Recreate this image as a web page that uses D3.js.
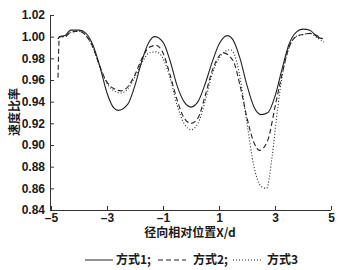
<!DOCTYPE html>
<html>
<head>
<meta charset="utf-8">
<script src="https://cdn.jsdelivr.net/npm/d3@7"></script>
<style>
  body { margin: 0; background: #fff; }
  svg { display: block; }
</style>
</head>
<body>
<svg width="350" height="270"></svg>
<script>
// 数据
const xTicks = [-5, -3, -1, 1, 3, 5];
const yTicks = [0.84, 0.86, 0.88, 0.90, 0.92, 0.94, 0.96, 0.98, 1.00, 1.02];

const x1 = [-4.75, -4.7, -4.5, -4.3, -4.0, -3.75, -3.5, -3.25, -3.0, -2.75, -2.6, -2.25, -2.0, -1.75, -1.5, -1.3, -1.0, -0.75, -0.5, -0.25, 0.0, 0.25, 0.5, 0.75, 1.0, 1.3, 1.5, 1.75, 2.0, 2.25, 2.5, 2.75, 3.0, 3.25, 3.5, 3.75, 4.0, 4.25, 4.5, 4.7];
const y1 = [0.998, 1.000, 1.001, 1.006, 1.006, 1.003, 0.992, 0.972, 0.948, 0.934, 0.932, 0.938, 0.955, 0.978, 0.995, 1.000, 0.995, 0.978, 0.955, 0.940, 0.935, 0.940, 0.956, 0.976, 0.993, 1.001, 0.997, 0.980, 0.955, 0.935, 0.928, 0.930, 0.945, 0.970, 0.993, 1.004, 1.007, 1.006, 1.000, 0.998];

const x2 = [-4.75, -4.7, -4.5, -4.3, -4.0, -3.75, -3.5, -3.25, -3.0, -2.75, -2.5, -2.25, -2.0, -1.75, -1.5, -1.25, -1.0, -0.75, -0.5, -0.25, 0.0, 0.25, 0.5, 0.75, 1.0, 1.15, 1.5, 1.75, 2.0, 2.25, 2.45, 2.75, 3.0, 3.25, 3.5, 3.75, 4.0, 4.25, 4.5, 4.7];
const y2 = [0.962, 1.000, 1.000, 1.004, 1.005, 1.001, 0.990, 0.972, 0.958, 0.952, 0.950, 0.954, 0.965, 0.980, 0.990, 0.992, 0.985, 0.965, 0.942, 0.925, 0.920, 0.925, 0.945, 0.968, 0.982, 0.985, 0.978, 0.955, 0.925, 0.902, 0.895, 0.905, 0.935, 0.965, 0.990, 1.000, 1.002, 1.003, 1.001, 0.998];

const x3 = [-4.75, -4.7, -4.5, -4.3, -4.0, -3.75, -3.5, -3.25, -3.0, -2.75, -2.5, -2.25, -2.0, -1.75, -1.5, -1.25, -1.0, -0.75, -0.5, -0.25, 0.0, 0.25, 0.5, 0.75, 1.0, 1.4, 1.6, 1.8, 2.0, 2.25, 2.5, 2.7, 2.9, 3.1, 3.3, 3.5, 3.75, 4.0, 4.25, 4.5, 4.75];
const y3 = [0.998, 1.000, 1.000, 1.004, 1.005, 1.001, 0.990, 0.972, 0.957, 0.950, 0.948, 0.952, 0.963, 0.976, 0.985, 0.986, 0.980, 0.962, 0.937, 0.920, 0.914, 0.920, 0.940, 0.965, 0.980, 0.988, 0.980, 0.955, 0.920, 0.880, 0.862, 0.860, 0.890, 0.935, 0.970, 0.990, 1.000, 1.002, 1.003, 0.999, 0.995];

const names = ["方式1;", "方式2;", "方式3"];

let svg = d3.select("svg");

let x = d3.scaleLinear().domain([-5, 5]).range([51, 331]);
let y = d3.scaleLinear().domain([0.84, 1.02]).range([210, 15]);

// 坐标轴
let xAxis = svg.append("g")
    .attr("transform", "translate(0,210)")
    .call(d3.axisBottom(x).tickValues(xTicks).tickSizeInner(-4).tickSizeOuter(0).tickPadding(3)
        .tickFormat(d => d < 0 ? "\u2013" + Math.abs(d) : d));
xAxis.select(".domain").attr("d", "M50,0.5H331").attr("stroke", "#333");

let yAxis = svg.append("g")
    .attr("transform", "translate(50,0)")
    .call(d3.axisLeft(y).tickValues(yTicks).tickSizeInner(-4).tickSizeOuter(0).tickPadding(5)
        .tickFormat(d3.format(".2f")));
yAxis.select(".domain").attr("stroke", "#333");

svg.selectAll(".tick line").attr("stroke", "#333");
svg.selectAll(".tick text")
    .style("font-family", "'Liberation Sans', Arial, sans-serif")
    .style("font-weight", "700")
    .style("font-size", "12px")
    .style("fill", "#1a1a1a");

// 曲线
let line = d3.line().curve(d3.curveMonotoneX);
let series = [[x1, y1, null], [x2, y2, "5,3"], [x3, y3, "1,2"]];
series.forEach(s => {
    let pts = s[0].map((v, i) => [x(v), y(s[1][i])]);
    svg.append("path")
        .attr("d", line(pts))
        .attr("fill", "none")
        .attr("stroke", "#222")
        .attr("stroke-width", 1.1)
        .attr("stroke-dasharray", s[2]);
});

function cjk(sel) {
    return sel.style("font-family", "'Noto Sans CJK SC', sans-serif")
        .style("font-weight", "700")
        .style("font-size", "12px")
        .style("fill", "#1a1a1a");
}

// 轴标题
svg.append("text").call(cjk)
    .attr("x", 190).attr("y", 237).attr("text-anchor", "middle")
    .text("径向相对位置X/d");

svg.append("text").call(cjk)
    .attr("transform", "translate(19,112) rotate(-90)")
    .attr("text-anchor", "middle")
    .text("速度比率");

// 图例
let legendX = [85, 158, 233];
let textX = [116, 193, 267];
series.forEach((s, i) => {
    svg.append("line")
        .attr("x1", legendX[i]).attr("x2", legendX[i] + 28)
        .attr("y1", 260).attr("y2", 260)
        .attr("stroke", "#222").attr("stroke-width", 1)
        .attr("stroke-dasharray", s[2]);
    svg.append("text").call(cjk)
        .attr("x", textX[i]).attr("y", 264)
        .text(names[i]);
});
</script>
</body>
</html>
